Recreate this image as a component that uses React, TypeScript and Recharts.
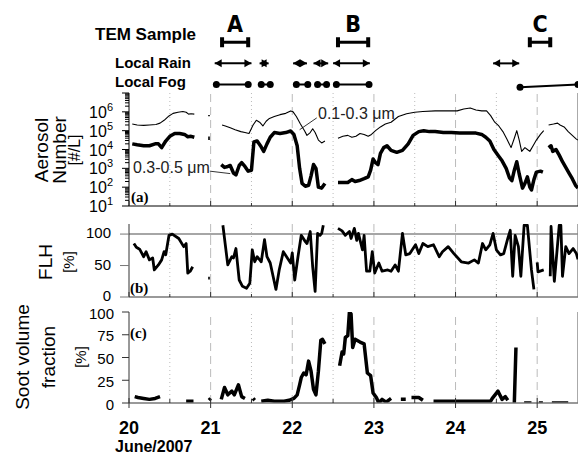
import React from "react";
import { LineChart, Line, XAxis, YAxis, ReferenceLine } from "recharts";

const W = 578;
const AXIS_W = 129;
const X_DOMAIN: [number, number] = [20, 25.5];
const ARIAL = "'Liberation Sans', Arial, sans-serif";
const NARROW = "'Liberation Sans Narrow', 'DejaVu Sans Condensed', sans-serif";
const SERIF = "'Liberation Serif', 'DejaVu Serif', serif";

// ---- sampling / weather periods (day of June 2007)
const temLabels = ["A", "B", "C"];
const temStart = [21.14, 22.56, 24.91];
const temEnd = [21.46, 22.93, 25.16];
const rainStart = [21.05, 21.6, 22.01, 22.26, 22.5, 24.46];
const rainEnd = [21.5, 21.71, 22.18, 22.44, 22.95, 24.78];
const fogStart = [21.07, 21.62, 22.05, 22.31, 22.54, 24.79];
const fogEnd = [21.46, 21.73, 22.19, 22.42, 22.94, 25.5];
const fogStartRow = [1, 1, 1, 1, 1, 0.87];

// ---- (a) aerosol number, log10 of #/L (null = no data)
const fineT = [
  20.04, 20.1, 20.18, 20.25, 20.33, 20.38, 20.43, 20.48, 20.54, 20.6, 20.66, 20.7, 20.73, 20.76, 20.8,
  20.88, 20.97, 20.99, 21.06,
  21.14, 21.18, 21.24, 21.3, 21.37, 21.42, 21.47, 21.52, 21.56, 21.6, 21.64, 21.68, 21.72, 21.78,
  21.85, 21.92, 21.98, 22.01, 22.05, 22.1, 22.15, 22.18, 22.22, 22.25, 22.28, 22.32, 22.36, 22.4,
  22.48,
  22.56, 22.62, 22.68, 22.73, 22.78, 22.83, 22.88, 22.93, 22.97, 23.02, 23.08, 23.14, 23.21, 23.3,
  23.4, 23.5, 23.6, 23.75, 23.9, 24.02, 24.1, 24.18, 24.25, 24.32, 24.38, 24.43, 24.48, 24.53,
  24.58, 24.63, 24.68, 24.72, 24.75, 24.78, 24.81, 24.85, 24.88, 24.91, 24.95, 24.99, 25.04, 25.08,
  25.11,
  25.14, 25.2, 25.25, 25.28, 25.33, 25.38, 25.43, 25.48, 25.5,
];
const fineLog = [
  5.35, 5.3, 5.28, 5.3, 5.33, 5.4, 5.55, 5.75, 5.92, 5.98, 6.02, 5.98, 5.88, 5.9, 5.88,
  null, 5.8, 5.8, null,
  5.3, 5.25, 5.15, 5.05, 4.95, 4.9, 4.85, 5.3, 5.55, 5.45, 5.25, 5.5, 5.65, 5.75,
  5.85, 5.92, 6.05, 6.0, 5.75, 5.35, 5.0, 4.75, 4.9, 5.1, 4.9, 4.5, 4.35, 4.45,
  null,
  4.6, 4.7, 4.75, 4.65, 4.7, 4.85, 4.8, 4.7, 4.8, 5.0, 5.2, 5.35, 5.45, 5.75,
  5.9, 5.98, 6.02, 6.05, 6.05, 6.05, 6.15, 6.2, 6.1, 6.05, 6.05, 5.8, 5.45, 5.25,
  4.95, 4.55, 4.1, 4.6, 5.0, 4.5, 3.9, 4.1, 4.0, 3.9, 4.2, 4.5, 4.8, 5.0,
  null,
  5.3, 5.35, 5.4, 5.3, 5.2, 4.95, 4.75, 4.55, 4.5,
];
const coarseT = [
  20.04, 20.1, 20.18, 20.25, 20.32, 20.36, 20.4, 20.45, 20.5, 20.56, 20.62, 20.68, 20.72, 20.76, 20.8,
  20.88, 20.97, 20.99, 21.06,
  21.13, 21.17, 21.21, 21.24, 21.28, 21.31, 21.35, 21.38, 21.42, 21.46, 21.5, 21.53, 21.57, 21.61,
  21.65, 21.69, 21.73, 21.78, 21.85, 21.92, 21.98, 22.02, 22.06, 22.09, 22.12, 22.16, 22.2, 22.23,
  22.26, 22.29, 22.32, 22.36, 22.4,
  22.48,
  22.56, 22.62, 22.68, 22.73, 22.77, 22.82, 22.88, 22.93, 22.96, 22.99, 23.02, 23.05, 23.08, 23.12,
  23.16, 23.21, 23.28, 23.35, 23.42, 23.48, 23.55, 23.61, 23.68, 23.75, 23.85, 23.95, 24.05, 24.15,
  24.25, 24.32, 24.37, 24.42, 24.47, 24.52, 24.57, 24.62, 24.66, 24.69, 24.72, 24.75, 24.78, 24.82,
  24.85, 24.88, 24.91, 24.93, 24.96, 24.99, 25.04, 25.07,
  25.11,
  25.14, 25.17, 25.19, 25.23, 25.27, 25.31, 25.35, 25.39, 25.43, 25.47, 25.5,
];
const coarseLog = [
  4.3, 4.25, 4.2, 4.2, 4.3, 4.3, 4.1, 4.45, 4.7, 4.85, 4.85, 4.8, 4.68, 4.7, 4.65,
  null, 4.6, 4.6, null,
  3.2, 3.05, 3.1, 3.15, 2.75, 2.65, 3.15, 3.3, 3.1, 2.85, 2.9, 4.4, 4.45, 4.2,
  3.9, 4.3, 4.65, 4.9, 4.85, 4.9, 4.98, 4.8, 4.2, 3.0, 2.2, 2.05, 2.1, 2.6,
  3.2, 3.0, 2.0, 1.95, 2.2,
  null,
  2.25, 2.25, 2.25, 2.4, 2.3, 2.35, 2.45, 2.55, 2.9, 3.5, 3.3, 3.2, 3.8, 4.1,
  4.2, 3.95, 3.85, 3.95, 4.3, 4.75, 4.95, 5.0, 4.95, 4.95, 4.9, 4.9, 4.88, 4.88,
  4.87, 4.8, 4.65, 4.45, 4.0, 3.7, 3.4, 3.0, 2.5, 2.35, 2.9, 3.35, 2.7, 1.95,
  2.2, 2.55, 2.0, 1.85, 2.4, 2.8, 2.85, 2.8,
  null,
  4.1, 4.2, 3.9, 4.0, 3.7, 3.35, 3.05, 2.75, 2.45, 2.1, 1.95,
];

// ---- (b) FLH, %
const flhT = [
  20.06, 20.09, 20.13, 20.18, 20.21, 20.25, 20.29, 20.31, 20.36, 20.4, 20.43, 20.45, 20.49, 20.53,
  20.61, 20.67, 20.7, 20.72, 20.75, 20.78,
  20.88, 20.97, 20.99, 21.07,
  21.15, 21.21, 21.26, 21.28, 21.31, 21.35, 21.39, 21.44, 21.48, 21.51, 21.54, 21.57, 21.62, 21.66,
  21.69, 21.73, 21.8, 21.84, 21.89, 21.93, 21.98, 22.0, 22.03, 22.07, 22.11, 22.16, 22.18, 22.22,
  22.25, 22.28, 22.31, 22.34, 22.36, 22.38,
  22.47,
  22.56, 22.61, 22.65, 22.7, 22.72, 22.76, 22.79, 22.81, 22.86, 22.88, 22.91, 22.95, 22.98, 23.01,
  23.06, 23.1, 23.17, 23.21, 23.26, 23.3, 23.35, 23.39, 23.44, 23.51, 23.55, 23.6, 23.66, 23.73,
  23.8, 23.84, 23.91, 23.98, 24.07, 24.16, 24.23, 24.28, 24.33, 24.37, 24.42, 24.46, 24.5, 24.55,
  24.59, 24.64, 24.67, 24.7, 24.73, 24.77, 24.8, 24.84, 24.88, 24.93, 24.96,
  24.98,
  25.0, 25.01, 25.08,
  25.12,
  25.16, 25.17, 25.21, 25.24, 25.27, 25.29, 25.31, 25.35, 25.39, 25.44, 25.48, 25.5,
];
const flhV = [
  85, 79, 76, 64, 72, 59, 62, 43, 51, 59, 72, 67, 98, 100,
  93, 80, 85, 38, 41, 48,
  null, 30, 30, null,
  114, 51, 64, 62, 77, 27, 17, 14, 22, 75, 56, 64, 56, 91,
  64, 54, 12, 43, 72, 64, 54, 70, 27, 64, 98, 88, 85, 104,
  48, 9, 101, 98, 101, 114,
  null,
  109, 105, 98, 104, 93, 109, 90, 101, 75, 98, 41, 41, 72, 38,
  54, 41, 43, 41, 51, 41, 101, 67, 69, 83, 69, 85, 80, 83,
  64, 72, 80, 69, 56, 54, 59, 54, 85, 75, 83, 101, 75, 67,
  69, 93, 106, 33, 98, 80, 33, 114, 114, 43, 12,
  null,
  55, 40, 43,
  null,
  33, 112, 25, 69, 114, 114, 33, 80, 69, 77, 69, 60,
];

// ---- (c) soot volume fraction, %
const sootT = [
  20.07, 20.11, 20.18, 20.25, 20.32, 20.38, 20.5, 20.7, 20.79, 20.9, 20.98, 21.0, 21.07,
  21.13, 21.17, 21.21, 21.26, 21.29, 21.34, 21.38, 21.42, 21.48, 21.52, 21.54, 21.58,
  21.62, 21.7, 21.78, 21.9, 21.96, 22.02, 22.06, 22.09, 22.11, 22.14, 22.17, 22.2, 22.23, 22.26,
  22.29, 22.32, 22.35, 22.37, 22.4,
  22.5,
  22.58, 22.61, 22.63, 22.65, 22.68, 22.7, 22.72, 22.74, 22.77, 22.83, 22.88, 22.92, 22.96, 22.99,
  23.03, 23.06, 23.1, 23.15, 23.21,
  23.27, 23.33, 23.39, 23.43, 23.46, 23.55, 23.6, 23.67,
  23.73, 23.9, 24.1, 24.3, 24.43, 24.45, 24.52, 24.57, 24.61, 24.64,
  24.68, 24.72, 24.74, 24.78, 24.84, 24.93, 24.97, 25.02, 25.07, 25.12, 25.18, 25.38,
];
const sootV = [
  7, 6, 5, 4, 5, 7, null, 2, 2, null, 3, 5, null,
  4, 17, 9, 13, 9, 20, 7, 5, null, 5, 3, null,
  2, 3, 2, 2, 3, 5, 9, 20, 28, 33, 31, 46, 35, 15,
  9, 35, 69, 70, 65,
  null,
  41, 56, 54, 72, 74, 100, 98, 61, 70, 67, 65, 33, 30, 11,
  6, 0, 4, 1, 5,
  null, 4, 4, null, 6, 6, 3, null,
  2, 2, 2, 2, 2, 5, 13, 4, 7, 3,
  null, 0, 61, null, 0, 0, null, 0, 0, null, 0, 0,
];

const dayTicks = [20, 21, 22, 23, 24, 25];
const gridDays = [21, 22, 23, 24, 25];
const halfDays = [20.5, 21.5, 22.5, 23.5, 24.5];
const xTicks = [20, 20.5, 21, 21.5, 22, 22.5, 23, 23.5, 24, 24.5, 25];
const logMajor = [1, 2, 3, 4, 5, 6, 7];
const logTicks = [
  ...logMajor,
  ...logMajor.slice(0, 6).flatMap((n) => [2, 3, 4, 5, 6, 7, 8, 9].map((k) => n + Math.log10(k))),
];

const TEM_ROW = 3;
const RAIN_ROW = 2;
const FOG_ROW = 1;
const LABEL_ROW = 3.85;

function pts(t: number[], v: (number | null)[]) {
  return t.map((x, i) => ({ x, y: v[i] }));
}

const fine = pts(fineT, fineLog);
const coarse = pts(coarseT, coarseLog);
const flh = pts(flhT, flhV);
const soot = pts(sootT, sootV);

const crossTick = (len: number) => (p: any) => (
  <line x1={p.x} x2={p.x} y1={p.y - len} y2={p.y + len} stroke="#333" />
);

const upTick = (p: any) => {
  const whole = Number.isInteger(p.payload.value);
  return <line x1={p.x} x2={p.x} y1={p.y} y2={p.y - (whole ? 5 : 3)} stroke="#333" />;
};

const bottomTick = (p: any) => {
  const v = p.payload.value as number;
  if (!Number.isInteger(v)) return <line x1={p.x} x2={p.x} y1={p.y - 4} y2={p.y} stroke="#333" />;
  return (
    <g>
      <line x1={p.x} x2={p.x} y1={p.y - 5} y2={p.y + 5} stroke="#333" />
      <text x={p.x} y={p.y + 30.5} textAnchor="middle" fontSize={18} fontWeight="bold" fontFamily={ARIAL} fill="#000">
        {v}
      </text>
    </g>
  );
};

const LogTick = (p: any) => {
  const v = p.payload.value as number;
  const major = Math.abs(v - Math.round(v)) < 1e-9;
  if (!major) return <line x1={p.x - 4} x2={p.x} y1={p.y} y2={p.y} stroke="#000" />;
  return (
    <g>
      <line x1={p.x - 7} x2={p.x} y1={p.y} y2={p.y} stroke="#000" />
      {v < 7 && (
        <text x={p.x - 16} y={p.y + 6} textAnchor="end" fontSize={16} fontFamily={ARIAL} fill="#000">
          10<tspan dy={-7} fontSize={11}>{v}</tspan>
        </text>
      )}
    </g>
  );
};

const pctTick = (len: number, gap: number, color: string, dy: number) => (p: any) => (
  <g>
    <line x1={p.x - len} x2={p.x} y1={p.y} y2={p.y} stroke={color} />
    <text x={p.x - gap} y={p.y + dy} textAnchor="end" fontSize={15} fontFamily={ARIAL} fill="#000">
      {p.payload.value}
    </text>
  </g>
);

const capDot = (p: any) => <rect key={p.index} x={p.cx - 2} y={p.cy - 5} width={4} height={10} fill="#000" />;

const arrowDot = (p: any) => {
  const d = p.index === 0 ? -1 : 1;
  const { cx, cy } = p;
  return <path key={p.index} d={`M${cx},${cy} L${cx - d * 7},${cy - 4} L${cx - d * 7},${cy + 4} Z`} fill="#000" />;
};

const fogDot = (p: any) => <circle key={p.index} cx={p.cx} cy={p.cy} r={3.5} fill="#000" />;

const letterDot = (p: any) => (
  <text key={p.index} x={p.cx} y={p.cy + 8} textAnchor="middle" fontSize={23} fontWeight="bold" fontFamily={NARROW} fill="#000">
    {p.payload.label}
  </text>
);

function dayLines(dash: string) {
  return [
    ...halfDays.map((d) => <ReferenceLine key={`h${d}`} x={d} stroke="#bbb" strokeDasharray="1 3" />),
    ...gridDays.map((d) => <ReferenceLine key={`d${d}`} x={d} stroke="#bbb" strokeDasharray={dash} />),
    <ReferenceLine key="right" x={25.5} stroke="#555" />,
  ];
}

function Txt(props: { left: number; top: number; size: number; bold?: boolean; family?: string; color?: string; children: React.ReactNode }) {
  return (
    <div
      style={{
        position: "absolute",
        left: props.left,
        top: props.top,
        fontSize: props.size,
        lineHeight: 1,
        fontWeight: props.bold ? "bold" : "normal",
        fontFamily: props.family ?? ARIAL,
        color: props.color ?? "#000",
        whiteSpace: "nowrap",
      }}
    >
      {props.children}
    </div>
  );
}

function VTxt(props: { cx: number; cy: number; size: number; children: React.ReactNode }) {
  return (
    <div
      style={{
        position: "absolute",
        left: props.cx,
        top: props.cy,
        transform: "translate(-50%, -50%) rotate(-90deg)",
        fontSize: props.size,
        lineHeight: 1,
        fontFamily: ARIAL,
        whiteSpace: "nowrap",
      }}
    >
      {props.children}
    </div>
  );
}

const line = { isAnimationActive: false, dot: false, connectNulls: false, strokeLinejoin: "round" as const, type: "linear" as const };

export default function App() {
  return (
    <div style={{ position: "absolute", left: 0, top: 0, width: W, height: 455, background: "#fff", overflow: "hidden" }}>
      {/* periods */}
      <div style={{ position: "absolute", left: 0, top: 0 }}>
        <LineChart width={W} height={94} margin={{ top: 0, right: 0, bottom: 0, left: AXIS_W }}>
          <XAxis hide type="number" dataKey="x" domain={X_DOMAIN} allowDataOverflow />
          <YAxis hide type="number" domain={[0.55, 5]} allowDataOverflow />
          {temStart.map((s, i) => (
            <Line key={`t${i}`} data={[{ x: s, y: TEM_ROW }, { x: temEnd[i], y: TEM_ROW }]} dataKey="y" stroke="#000" strokeWidth={3} dot={capDot} isAnimationActive={false} />
          ))}
          {temStart.map((s, i) => (
            <Line key={`l${i}`} data={[{ x: (s + temEnd[i]) / 2, y: LABEL_ROW, label: temLabels[i] }]} dataKey="y" stroke="none" dot={letterDot} isAnimationActive={false} />
          ))}
          {rainStart.map((s, i) => (
            <Line key={`r${i}`} data={[{ x: s, y: RAIN_ROW }, { x: rainEnd[i], y: RAIN_ROW }]} dataKey="y" stroke="#000" strokeWidth={2} dot={arrowDot} isAnimationActive={false} />
          ))}
          {fogStart.map((s, i) => (
            <Line key={`f${i}`} data={[{ x: s, y: fogStartRow[i] }, { x: fogEnd[i], y: FOG_ROW }]} dataKey="y" stroke="#000" strokeWidth={2} dot={fogDot} isAnimationActive={false} />
          ))}
        </LineChart>
      </div>

      {/* (a) aerosol number */}
      <div style={{ position: "absolute", left: 0, top: 88 }}>
        <LineChart width={W} height={130} margin={{ top: 5, right: 0, bottom: 0, left: 0 }}>
          <XAxis type="number" dataKey="x" domain={X_DOMAIN} allowDataOverflow ticks={xTicks} interval={0} tick={upTick} tickLine={false} tickSize={0} tickMargin={0} height={12} axisLine={{ stroke: "#000" }} />
          <XAxis xAxisId="top" orientation="top" type="number" dataKey="x" domain={X_DOMAIN} allowDataOverflow ticks={dayTicks} interval={0} tick={crossTick(4)} tickLine={false} tickSize={0} tickMargin={0} height={0} axisLine={{ stroke: "#000" }} />
          <YAxis type="number" domain={[1, 7]} allowDataOverflow ticks={logTicks} interval={0} tick={LogTick} tickLine={false} tickSize={0} tickMargin={0} width={AXIS_W} axisLine={{ stroke: "#000" }} />
          {dayLines("8 5")}
          <ReferenceLine segment={[{ x: 22.09, y: 5.05 }, { x: 22.3, y: 5.68 }]} stroke="#000" strokeWidth={0.8} />
          <ReferenceLine segment={[{ x: 20.99, y: 2.85 }, { x: 21.24, y: 2.72 }]} stroke="#000" strokeWidth={0.8} />
          <Line {...line} data={fine} dataKey="y" stroke="#000" strokeWidth={1.1} />
          <Line {...line} data={coarse} dataKey="y" stroke="#000" strokeWidth={3.5} />
        </LineChart>
      </div>

      {/* (b) FLH */}
      <div style={{ position: "absolute", left: 0, top: 219 }}>
        <LineChart width={W} height={90} margin={{ top: 5, right: 0, bottom: 0, left: 0 }}>
          <XAxis type="number" dataKey="x" domain={X_DOMAIN} allowDataOverflow ticks={xTicks} interval={0} tick={upTick} tickLine={false} tickSize={0} tickMargin={0} height={12} axisLine={{ stroke: "#777", strokeWidth: 1.5 }} />
          <XAxis xAxisId="top" orientation="top" type="number" dataKey="x" domain={X_DOMAIN} allowDataOverflow ticks={dayTicks} interval={0} tick={crossTick(4)} tickLine={false} tickSize={0} tickMargin={0} height={0} axisLine={{ stroke: "#777", strokeWidth: 1.5 }} />
          <YAxis type="number" domain={[0, 116]} allowDataOverflow ticks={[0, 50, 100]} interval={0} tick={pctTick(9, 18, "#777", 4)} tickLine={false} tickSize={0} tickMargin={0} width={AXIS_W} axisLine={{ stroke: "#333" }} />
          {dayLines("10 3")}
          <ReferenceLine y={100} stroke="#888" strokeWidth={1.5} />
          <Line {...line} data={flh} dataKey="y" stroke="#000" strokeWidth={2.8} />
        </LineChart>
      </div>

      {/* (c) soot volume fraction */}
      <div style={{ position: "absolute", left: 0, top: 300 }}>
        <LineChart width={W} height={148} margin={{ top: 12, right: 0, bottom: 0, left: 0 }}>
          <XAxis type="number" dataKey="x" domain={X_DOMAIN} allowDataOverflow ticks={xTicks} interval={0} tick={bottomTick} tickLine={false} tickSize={0} tickMargin={0} height={45} axisLine={{ stroke: "#777", strokeWidth: 1.5 }} />
          <XAxis xAxisId="top" orientation="top" type="number" dataKey="x" domain={X_DOMAIN} allowDataOverflow ticks={dayTicks} interval={0} tick={crossTick(4)} tickLine={false} tickSize={0} tickMargin={0} height={0} axisLine={{ stroke: "#777", strokeWidth: 1.5 }} />
          <YAxis type="number" domain={[0, 100]} allowDataOverflow ticks={[0, 25, 50, 75, 100]} interval={0} tick={pctTick(7, 15, "#333", 6.5)} tickLine={false} tickSize={0} tickMargin={0} width={AXIS_W} axisLine={{ stroke: "#333" }} />
          {dayLines("8 5")}
          <Line {...line} data={soot} dataKey="y" stroke="#000" strokeWidth={3.5} />
        </LineChart>
      </div>

      {/* row names */}
      <Txt left={95} top={26} size={17} bold>TEM Sample</Txt>
      <Txt left={115} top={55} size={15} bold>Local Rain</Txt>
      <Txt left={115} top={74} size={15} bold>Local Fog</Txt>

      {/* size bin labels */}
      <Txt left={318} top={106} size={16} color="#222">0.1-0.3 μm</Txt>
      <Txt left={133} top={160} size={16} color="#222">0.3-0.5 μm</Txt>

      {/* panel tags */}
      <Txt left={131} top={190} size={15} bold family={SERIF}>(a)</Txt>
      <Txt left={130} top={281} size={15} bold family={SERIF}>(b)</Txt>
      <Txt left={130} top={326} size={15} bold family={SERIF}>(c)</Txt>

      {/* axis titles */}
      <VTxt cx={41} cy={150} size={19}>Aerosol</VTxt>
      <VTxt cx={59} cy={150} size={19}>Number</VTxt>
      <VTxt cx={75} cy={150} size={16}>[#/L]</VTxt>
      <VTxt cx={45} cy={262} size={19}>FLH</VTxt>
      <VTxt cx={68} cy={262} size={15}>[%]</VTxt>
      <VTxt cx={22} cy={357} size={19}>Soot volume</VTxt>
      <VTxt cx={48} cy={357} size={19}>fraction</VTxt>
      <VTxt cx={80} cy={357} size={15}>[%]</VTxt>

      <Txt left={115} top={439} size={16} bold>June/2007</Txt>
    </div>
  );
}
